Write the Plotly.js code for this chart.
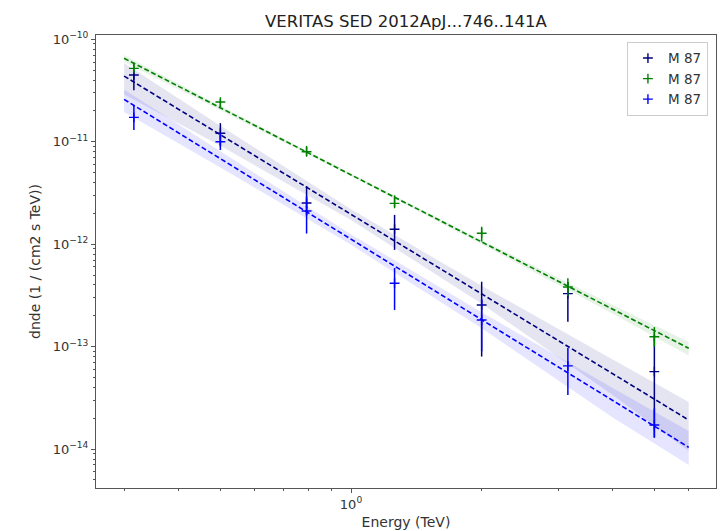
<!DOCTYPE html>
<html>
<head>
<meta charset="utf-8">
<script src="https://cdn.plot.ly/plotly-3.0.1.min.js"></script>
<style>html,body{margin:0;padding:0;background:#fff;}#chart{width:725px;height:531px;}</style>
</head>
<body>
<div id="chart"></div>
<script>
// ---- data ----
const energy = [0.316, 0.5, 0.79, 1.26, 2.0, 3.16, 5.0];

const navyVal = [4.48e-11, 1.21e-11, 2.52e-12, 1.40e-12, 2.55e-13, 3.29e-13, 5.7e-14];
const navyLo  = [3.18e-11, 9.27e-12, 1.93e-12, 8.8e-13, 8.0e-14, 1.75e-13, 1.29e-14];
const navyHi  = [4.90e-11, 1.52e-11, 3.70e-12, 1.93e-12, 4.3e-13, 4.28e-13, 1.30e-13];

const greenVal = [5.2e-11, 2.44e-11, 7.98e-12, 2.5e-12, 1.28e-12, 3.82e-13, 1.25e-13];
const greenLo  = [4.82e-11, 2.18e-11, 7.26e-12, 2.3e-12, 1.06e-12, 3.1e-13, 1.0e-13];
const greenHi  = [5.9e-11, 2.61e-11, 9.1e-12, 3.0e-12, 1.48e-12, 4.65e-13, 1.55e-13];

const blueVal = [1.73e-11, 1.0e-11, 2.11e-12, 4.16e-13, 1.82e-13, 6.49e-14, 1.72e-14];
const blueLo  = [1.3e-11, 8.3e-12, 1.27e-12, 2.28e-13, 9.0e-14, 3.38e-14, 1.3e-14];
const blueHi  = [2.28e-11, 1.22e-11, 2.95e-12, 5.86e-13, 2.9e-13, 9.7e-14, 2.5e-14];

// model curves and butterflies
const modelE = [0.3, 0.5, 1, 2, 4, 6];
const navyModel = [4.375e-11, 1.171e-11, 1.959e-12, 3.27e-13, 5.47e-14, 1.92e-14];
const navyBandHi = [5.86e-11, 1.43e-11, 2.19e-12, 3.92e-13, 7.55e-14, 2.88e-14];
const navyBandLo = [2.89e-11, 9.13e-12, 1.72e-12, 2.62e-13, 3.39e-14, 9.6e-15];

const greenModel = [6.52e-11, 2.14e-11, 4.75e-12, 1.05e-12, 2.33e-13, 9.64e-14];
const greenBandHi = [7.04e-11, 2.25e-11, 4.89e-12, 1.10e-12, 2.56e-13, 1.11e-13];
const greenBandLo = [6.0e-11, 2.03e-11, 4.61e-12, 1.0e-12, 2.1e-13, 8.2e-14];

const blueModel = [2.594e-11, 6.84e-12, 1.12e-12, 1.84e-13, 3.0e-14, 1.04e-14];
const blueBandHi = [3.24e-11, 8.07e-12, 1.25e-12, 2.17e-13, 3.96e-14, 1.5e-14];
const blueBandLo = [1.95e-11, 5.61e-12, 9.86e-13, 1.51e-13, 2.04e-14, 7.0e-15];

const seriesName = 'M 87';
const xMinor = [0.3,0.4,0.5,0.6,0.7,0.8,0.9,2,3,4,5,6];
const yMinor = [];
[-15,-14,-13,-12,-11].forEach(function(p){ for (let m=2;m<=9;m++) yMinor.push(m*Math.pow(10,p)); });
const yMajor = [1e-14,1e-13,1e-12,1e-11,1e-10];
const yMajorText = ['10<sup>−14</sup>','10<sup>−13</sup>','10<sup>−12</sup>','10<sup>−11</sup>','10<sup>−10</sup>'];

// ---- build traces ----
function band(hi, lo, color) {
  return {x: modelE.concat(modelE.slice().reverse()), y: hi.concat(lo.slice().reverse()),
    mode: 'lines', fill: 'toself', fillcolor: color, line: {width: 0}, showlegend: false, hoverinfo: 'skip'};
}
function model(vals, color) {
  return {x: modelE, y: vals, mode: 'lines', line: {color: color, width: 1.6, dash: '5px,2.6px'}, showlegend: false};
}
function points(vals, lo, hi, color) {
  return {x: energy, y: vals, mode: 'markers', name: seriesName,
    marker: {symbol: 'cross-thin-open', size: 7, color: color, line: {color: color, width: 1.4}},
    error_y: {type: 'data', symmetric: false,
      array: hi.map(function(h,i){return h - vals[i];}),
      arrayminus: lo.map(function(l,i){return vals[i] - l;}),
      color: color, thickness: 1.5, width: 0}};
}
const cNavy = '#000080', cGreen = '#008000', cBlue = '#0000ff';
const data = [
  band(navyBandHi, navyBandLo, 'rgba(0,0,128,0.1)'),
  band(greenBandHi, greenBandLo, 'rgba(0,128,0,0.1)'),
  band(blueBandHi, blueBandLo, 'rgba(0,0,255,0.1)'),
  model(navyModel, cNavy), model(greenModel, cGreen), model(blueModel, cBlue),
  points(navyVal, navyLo, navyHi, cNavy),
  points(greenVal, greenLo, greenHi, cGreen),
  points(blueVal, blueLo, blueHi, cBlue)
];

const fam = 'DejaVu Sans, sans-serif';
const layout = {
  width: 725, height: 531,
  margin: {l: 96, r: 9, t: 35, b: 43},
  paper_bgcolor: '#fff', plot_bgcolor: '#fff',
  font: {family: fam, size: 13, color: '#333'},
  title: {text: 'VERITAS SED 2012ApJ...746..141A', font: {family: fam, size: 16.5, color: '#222'},
    x: 0.5, xref: 'paper', xanchor: 'center', y: 0.96, yref: 'container', yanchor: 'middle'},
  xaxis: {type: 'log', range: [-0.5876, 0.841], showgrid: false, zeroline: false,
    showline: true, mirror: true, linecolor: '#555', linewidth: 1,
    ticks: 'outside', ticklen: 4, tickcolor: '#555', tickvals: [1], ticktext: ['10<sup>0</sup>'],
    tickfont: {family: fam, size: 13, color: '#333'},
    minor: {tickvals: xMinor, ticks: 'outside', ticklen: 2, tickcolor: '#555', showgrid: false},
    title: {text: 'Energy (TeV)', font: {family: fam, size: 14, color: '#333'}, standoff: 6}},
  yaxis: {type: 'log', range: [-14.38, -9.958], showgrid: false, zeroline: false,
    showline: true, mirror: true, linecolor: '#555', linewidth: 1,
    ticks: 'outside', ticklen: 4, tickcolor: '#555', tickvals: yMajor, ticktext: yMajorText,
    tickfont: {family: fam, size: 13, color: '#333'},
    minor: {tickvals: yMinor, ticks: 'outside', ticklen: 2, tickcolor: '#555', showgrid: false},
    title: {text: 'dnde (1 / (cm2 s TeV))', font: {family: fam, size: 14, color: '#333'}, standoff: 8}},
  legend: {x: 0.987, xanchor: 'right', y: 0.985, yanchor: 'top', bgcolor: 'rgba(255,255,255,0.9)',
    bordercolor: '#ccc', borderwidth: 1, font: {family: fam, size: 13.5, color: '#333'},
    tracegroupgap: 0, itemwidth: 30},
  showlegend: true
};
Plotly.newPlot('chart', data, layout, {displayModeBar: false, staticPlot: true});
</script>
</body>
</html>
